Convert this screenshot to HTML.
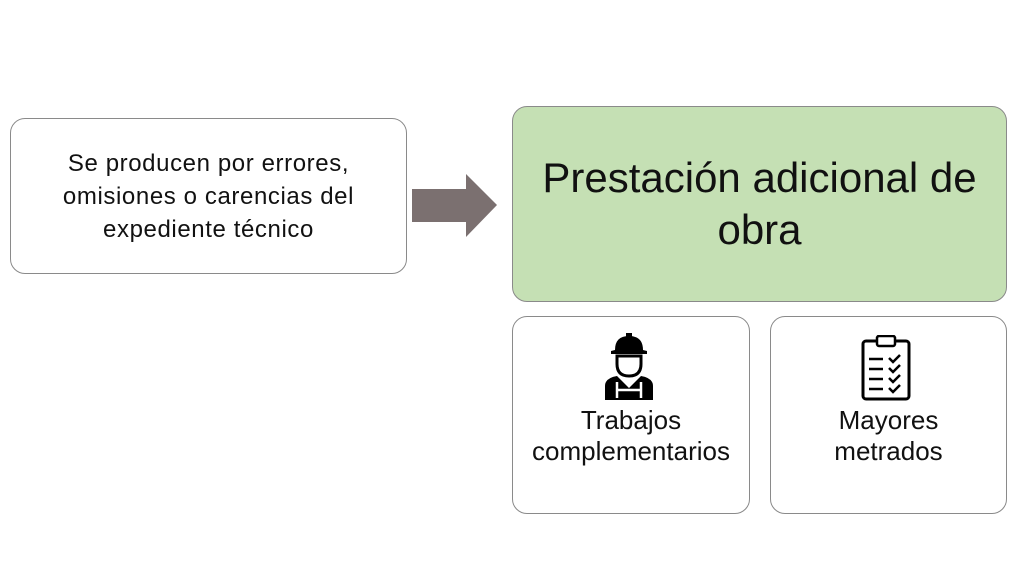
<!DOCTYPE html>
<html><head><style>
body{margin:0;width:1024px;height:576px;background:#fff;font-family:"Liberation Sans",Calibri,sans-serif;position:relative;overflow:hidden}
.b{position:absolute;box-sizing:border-box;border:1.5px solid #8a8a8a;border-radius:15px;display:flex;align-items:center;justify-content:center;text-align:center;color:#111}
.t{position:absolute;width:100%;text-align:center;left:0;white-space:nowrap}
</style></head><body>
<div class="b" style="left:10px;top:118px;width:397px;height:156px;font-size:24px;letter-spacing:0.6px;line-height:33px;white-space:nowrap">Se producen por errores,<br>omisiones o carencias del<br>expediente técnico</div>
<svg style="position:absolute;left:0;top:0" width="1024" height="576"><polygon points="412,189 466,189 466,174 497,205 466,237 466,222 412,222" fill="#7b7070"/></svg>
<div class="b" style="left:512px;top:106px;width:495px;height:196px;background:#c5e0b4;font-size:42px;line-height:52px;white-space:nowrap">Prestación adicional de<br>obra</div>
<div class="b" style="left:512px;top:316px;width:238px;height:198px;display:block">
<svg style="position:absolute;left:88px;top:15px" width="56" height="70" viewBox="0 0 56 70">
<path d="M14 18 Q14 4 28 4 Q42 4 42 18 L46 19 L46 22 L10 22 L10 19 Z" fill="#000"/>
<rect x="25" y="1" width="6" height="8" fill="#000"/>
<path d="M16 24 L40 24 L40 32 Q40 44 28 44 Q16 44 16 32 Z" fill="none" stroke="#000" stroke-width="3"/>
<path d="M4 68 L4 54 Q4 46 16 44 L28 56 L40 44 Q52 46 52 54 L52 68 Z" fill="#000"/>
<path d="M16 50 L16 66 M40 50 L40 66 M16 58 L40 58" stroke="#fff" stroke-width="2.5"/>
</svg>
<div class="t" style="top:88px;font-size:26px;line-height:31px">Trabajos<br>complementarios</div></div>
<div class="b" style="left:770px;top:316px;width:237px;height:198px;display:block">
<svg style="position:absolute;left:90px;top:18px" width="50" height="66" viewBox="0 0 50 66">
<rect x="2" y="6" width="46" height="58" rx="3" fill="none" stroke="#000" stroke-width="3"/>
<rect x="16" y="1" width="18" height="10" rx="2" fill="#fff" stroke="#000" stroke-width="2.5"/>
<g stroke="#000" stroke-width="2.5" fill="none">
<path d="M8 24h14M8 34h14M8 44h14M8 54h14"/>
<path d="M28 23l4 4 7-7M28 33l4 4 7-7M28 43l4 4 7-7M28 53l4 4 7-7"/></g>
</svg>
<div class="t" style="top:88px;font-size:26px;line-height:31px">Mayores<br>metrados</div></div>
</body></html>
